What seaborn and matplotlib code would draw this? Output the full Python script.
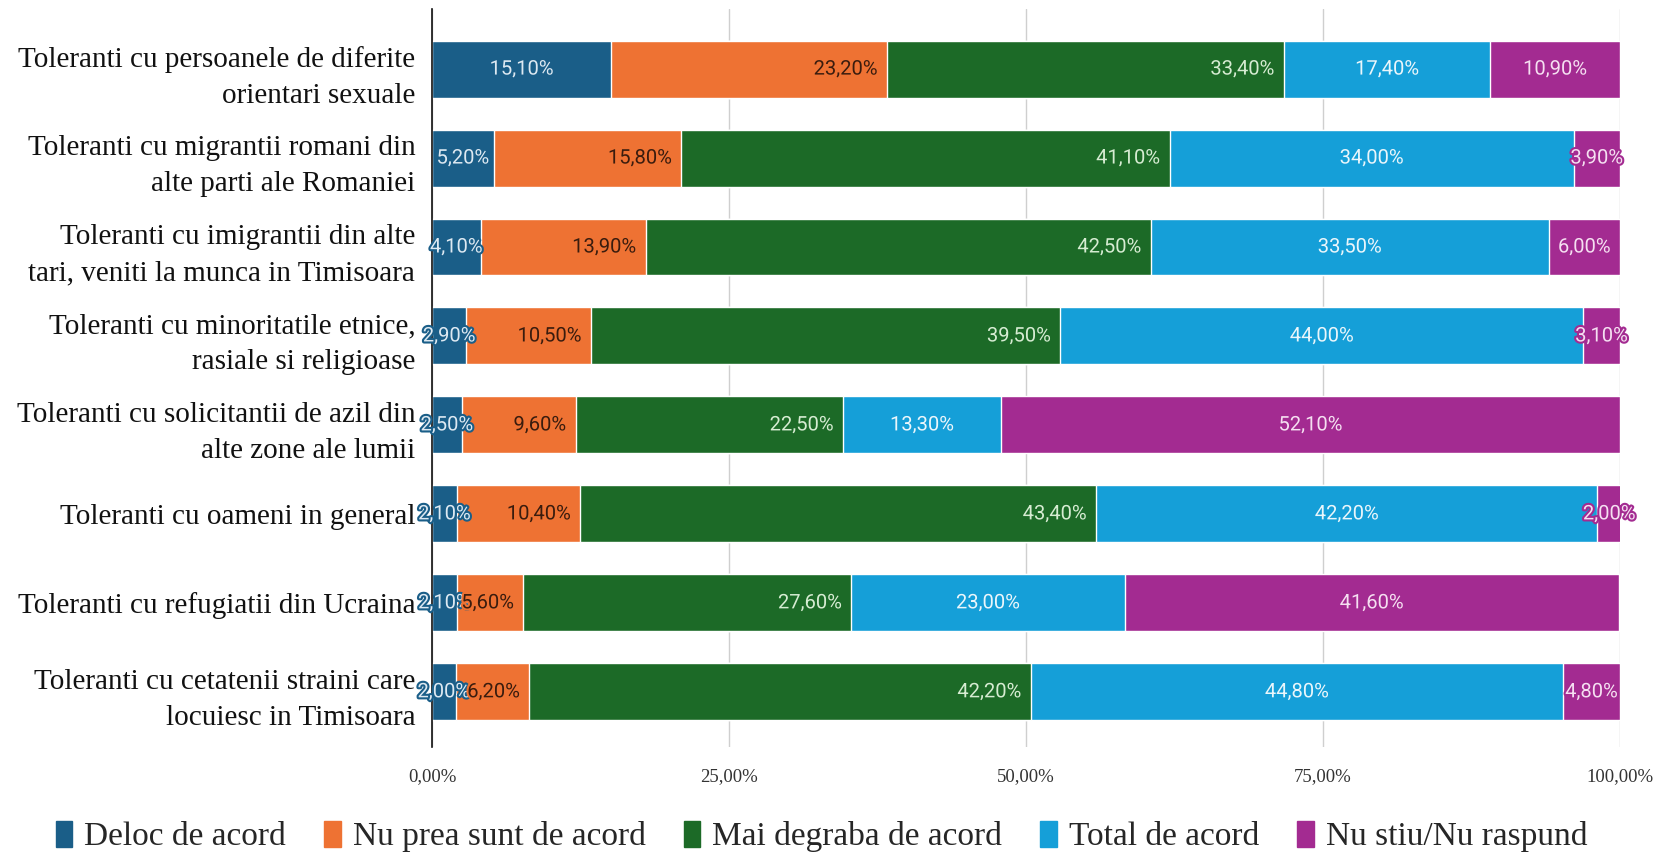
import numpy as np
import pandas as pd
import matplotlib
matplotlib.use("Agg")
import matplotlib.pyplot as plt
import matplotlib.patheffects as pe
from matplotlib.patches import Patch
import seaborn as sns

categories = [
    "Toleranti cu persoanele de diferite\norientari sexuale",
    "Toleranti cu migrantii romani din\nalte parti ale Romaniei",
    "Toleranti cu imigrantii din alte\ntari, veniti la munca in Timisoara",
    "Toleranti cu minoritatile etnice,\nrasiale si religioase",
    "Toleranti cu solicitantii de azil din\nalte zone ale lumii",
    "Toleranti cu oameni in general",
    "Toleranti cu refugiatii din Ucraina",
    "Toleranti cu cetatenii straini care\nlocuiesc in Timisoara",
]
series = ["Deloc de acord", "Nu prea sunt de acord", "Mai degraba de acord",
          "Total de acord", "Nu stiu/Nu raspund"]
deloc = [15.1, 5.2, 4.1, 2.9, 2.5, 2.1, 2.1, 2.0]
nu_prea = [23.2, 15.8, 13.9, 10.5, 9.6, 10.4, 5.6, 6.2]
mai_degraba = [33.4, 41.1, 42.5, 39.5, 22.5, 43.4, 27.6, 42.2]
total = [17.4, 34.0, 33.5, 44.0, 13.3, 42.2, 23.0, 44.8]
nu_stiu = [10.9, 3.9, 6.0, 3.1, 52.1, 2.0, 41.6, 4.8]
x_ticks = [0, 25, 50, 75, 100]
x_tick_labels = ["0,00%", "25,00%", "50,00%", "75,00%", "100,00%"]

colors = ["#1a5e88", "#ee7233", "#1c6a27", "#159fd8", "#a32b91"]
text_colors = ["#dde9f2", "#3a1c0e", "#d6ecd2", "#eaf6fb", "#f5dff1"]
# label placement per series: centred or at the inner end of the segment
align = ["center", "right", "right", "center", "center"]

df = pd.DataFrame({"Categorie": categories})
for name, vals in zip(series, [deloc, nu_prea, mai_degraba, total, nu_stiu]):
    df[name] = vals
cum = df[series].cumsum(axis=1)

sns.set_style("white")
plt.rcParams["font.family"] = ["Liberation Serif", "DejaVu Serif"]

fig = plt.figure(figsize=(16.73, 8.58), dpi=100)
ax = fig.add_axes([0.2582, 0.1294, 0.7101, 0.8606])

# stacked bars: draw cumulative totals from the widest down
for i in range(len(series) - 1, -1, -1):
    sns.barplot(x=cum[series[i]], y=df["Categorie"], color=colors[i],
                saturation=1, width=0.64, orient="h", ax=ax, zorder=3)

for i, name in enumerate(series):
    for j in range(len(categories)):
        v = df[name].iloc[j]
        right = cum[name].iloc[j]
        left = right - v
        if align[i] == "center":
            xpos, ha = left + v / 2, "center"
        else:
            xpos, ha = right - 0.8, "right"
        ax.text(xpos, j, f"{v:.2f}%".replace(".", ","), ha=ha, va="center",
                fontsize=14.5, family="Roboto", color=text_colors[i], zorder=5,
                path_effects=[pe.withStroke(linewidth=3, foreground=colors[i])])

ax.set_xlim(0, 100)
ax.set_ylim(7.62, -0.68)
ax.set_xticks(x_ticks)
ax.set_xticklabels(x_tick_labels, fontsize=13.5, color="#333333")
ax.tick_params(axis="x", length=0, pad=15)
ax.tick_params(axis="y", length=0, pad=12, labelsize=21, labelcolor="#111111")
for lbl in ax.get_yticklabels():
    lbl.set_linespacing(1.5)
ax.set_xlabel("")
ax.set_ylabel("")
ax.grid(axis="x", color="#cfcfcf", linewidth=1, zorder=0)
ax.set_axisbelow(True)
for s in ["top", "right", "bottom"]:
    ax.spines[s].set_visible(False)
ax.spines["left"].set_color("#111111")
ax.spines["left"].set_linewidth(1.2)
ax.spines["left"].set_zorder(4)

handles = [Patch(facecolor=c, edgecolor=c) for c in colors]
fig.legend(handles, series, loc="center", bbox_to_anchor=(0.491, 0.025), ncol=5,
           frameon=False, fontsize=24, handlelength=0.5, handleheight=0.85,
           handletextpad=0.35, columnspacing=1.15)

fig.savefig("out.png", dpi=100)
